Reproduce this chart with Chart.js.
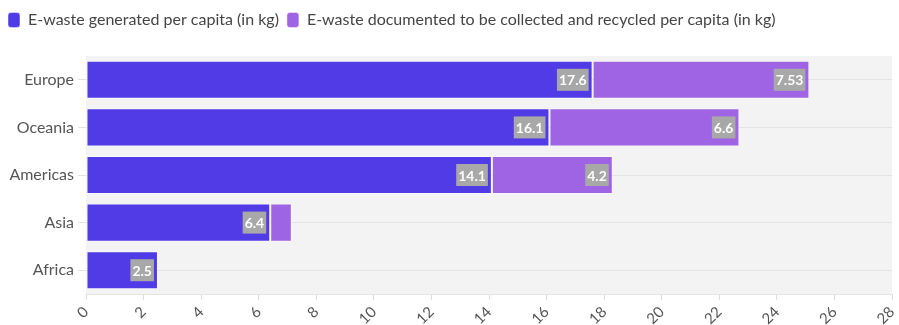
<!DOCTYPE html>
<html>
<head>
<meta charset="utf-8">
<script src="https://cdn.jsdelivr.net/npm/chart.js@4.4.1/dist/chart.umd.min.js"></script>
<style>
  html, body { margin: 0; padding: 0; background: #fff; }
  #wrap { width: 899px; height: 325px; }
</style>
</head>
<body>
<div id="wrap"><canvas id="ewasteChart"></canvas></div>
<script>
// Regions and per-capita e-waste figures (kg)
const regions = ['Europe', 'Oceania', 'Americas', 'Asia', 'Africa'];
const generated = [17.6, 16.1, 14.1, 6.4, 2.5];
const recycled = [7.53, 6.6, 4.2, 0.75, 0];
const xTicks = [0, 2, 4, 6, 8, 10, 12, 14, 16, 18, 20, 22, 24, 26, 28];

// grey plot background behind the bars
const plotBackground = {
  id: 'plotBackground',
  beforeDraw(chart) {
    const { ctx, chartArea } = chart;
    ctx.save();
    ctx.fillStyle = '#f3f3f3';
    ctx.fillRect(chartArea.left, chartArea.top, chartArea.right - chartArea.left, chartArea.bottom - chartArea.top);
    ctx.restore();
  }
};

// value boxes at the end of each bar segment (small segments stay unlabeled)
const valueBoxes = {
  id: 'valueBoxes',
  afterDatasetsDraw(chart) {
    const ctx = chart.ctx;
    ctx.save();
    ctx.font = 'bold 14px Lato';
    ctx.textBaseline = 'middle';
    ctx.textAlign = 'right';
    chart.data.datasets.forEach((ds, i) => {
      const meta = chart.getDatasetMeta(i);
      meta.data.forEach((bar, j) => {
        const v = ds.data[j];
        if (v < 1) return;
        const txt = String(v);
        const w = ctx.measureText(txt).width + 4;
        const right = bar.x - 4;
        ctx.fillStyle = '#a8a8a8';
        ctx.fillRect(right - w, bar.y - 11, w, 22);
        ctx.fillStyle = '#ffffff';
        ctx.fillText(txt, right - 2, bar.y + 1);
      });
    });
    ctx.restore();
  }
};

// extra room under the legend
const legendGap = {
  id: 'legendGap',
  beforeInit(chart) {
    const fit = chart.legend.fit;
    chart.legend.fit = function () {
      fit.bind(chart.legend)();
      this.height += 18;
    };
  }
};

document.addEventListener('DOMContentLoaded', function() {
  const ctx = document.getElementById('ewasteChart').getContext('2d');
  new Chart(ctx, {
    type: 'bar',
    data: {
      labels: regions,
      datasets: [{
        label: 'E-waste generated per capita (in kg)',
        data: generated,
        backgroundColor: '#513be6',
        borderColor: 'rgba(255, 255, 255, 0.45)',
        borderWidth: 1,
        borderSkipped: false,
        barPercentage: 1,
        categoryPercentage: 0.8
      }, {
        label: 'E-waste documented to be collected and recycled per capita (in kg)',
        data: recycled,
        backgroundColor: '#9e64e3',
        borderColor: 'rgba(255, 255, 255, 0.45)',
        borderWidth: 1,
        borderSkipped: false,
        barPercentage: 1,
        categoryPercentage: 0.8
      }]
    },
    options: {
      indexAxis: 'y',
      responsive: true,
      maintainAspectRatio: false,
      animation: false,
      layout: { padding: { left: 0, right: 7, top: 4, bottom: 0 } },
      plugins: {
        legend: {
          position: 'top',
          align: 'start',
          labels: {
            font: { family: 'Lato', size: 16 },
            color: '#454545',
            boxWidth: 12,
            boxHeight: 15,
            useBorderRadius: true,
            borderRadius: 3,
            padding: 8
          }
        },
        tooltip: { enabled: false }
      },
      scales: {
        x: {
          stacked: true,
          min: 0,
          max: 28,
          afterBuildTicks(axis) {
            axis.ticks = xTicks.map(v => ({ value: v }));
          },
          afterFit(axis) {
            axis.height = 31;
            axis.paddingRight = 0;
          },
          grid: { drawOnChartArea: false, color: '#dddddd', tickLength: 6 },
          border: { color: '#e4e4e4' },
          ticks: {
            minRotation: 45,
            maxRotation: 45,
            font: { family: 'Lato', size: 15 },
            color: '#555555'
          }
        },
        y: {
          stacked: true,
          afterFit(axis) {
            axis.width = 86;
          },
          grid: { offset: false, color: '#e3e3e3', tickLength: 8 },
          border: { display: false },
          ticks: {
            font: { family: 'Lato', size: 16 },
            color: '#555555',
            padding: 4
          }
        }
      }
    },
    plugins: [plotBackground, valueBoxes, legendGap]
  });
});
</script>
</body>
</html>
